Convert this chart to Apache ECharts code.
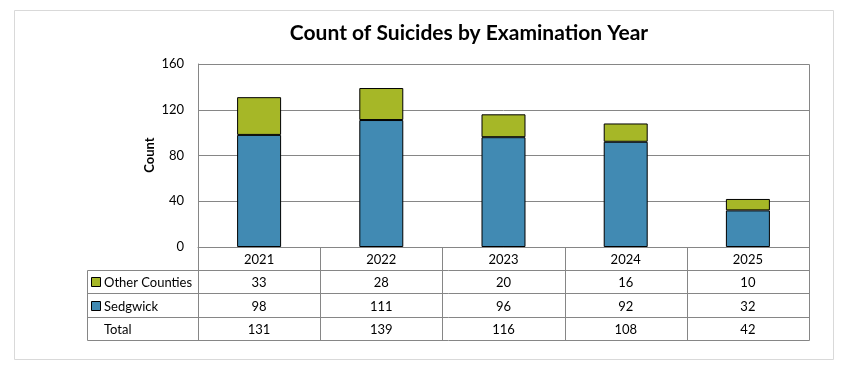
<!DOCTYPE html>
<html>
<head>
<meta charset="utf-8">
<script src="https://cdn.jsdelivr.net/npm/echarts@6/dist/echarts.min.js"></script>
<style>
html,body{margin:0;padding:0;background:#fff;}
#c{width:844px;height:373px;}
</style>
</head>
<body>
<div id="c"></div>
<script>
const years = ['2021', '2022', '2023', '2024', '2025'];
const otherCounties = [33, 28, 20, 16, 10];
const sedgwick = [98, 111, 96, 92, 32];
const totals = [131, 139, 116, 108, 42];
const yTicks = [0, 40, 80, 120, 160];

const FONT = 'Lato, "Open Sans", sans-serif';
const BLUE = '#418AB3';
const GREEN = '#A6B727';
const LINE = '#868686';

const W = 844, H = 373;
const gL = 198, gR = 809, gT = 64, gB = 247;
const tableL = 87;
const rowH = 23.2;
const colW = (gR - gL) / years.length;

const chart = echarts.init(document.getElementById('c'), null, {renderer: 'canvas'});

const graphics = [];
graphics.push({type: 'rect', shape: {x: 14.5, y: 10.5, width: 819, height: 349}, style: {fill: 'none', stroke: '#d9d9d9', lineWidth: 1}, silent: true});

function hline(x1, x2, y) {
  graphics.push({type: 'line', shape: {x1: x1, y1: y, x2: x2, y2: y}, style: {stroke: LINE, lineWidth: 1}, silent: true, z: 10});
}
function vline(x, y1, y2) {
  graphics.push({type: 'line', shape: {x1: x, y1: y1, x2: x, y2: y2}, style: {stroke: LINE, lineWidth: 1}, silent: true, z: 10});
}
function txt(x, y, s, align) {
  graphics.push({type: 'text', x: x, y: y, style: {text: s, fill: '#000', font: '13px ' + FONT, textAlign: align || 'center', textVerticalAlign: 'middle'}, silent: true, z: 10});
}

const r0 = gB, r1 = Math.round(gB + rowH) + 0.5, r2 = Math.round(gB + 2 * rowH) + 0.5, r3 = Math.round(gB + 3 * rowH) + 0.5, r4 = Math.round(gB + 4 * rowH) + 0.5;
hline(tableL + 0.5, gR + 0.5, r1);
hline(tableL + 0.5, gR + 0.5, r2);
hline(tableL + 0.5, gR + 0.5, r3);
hline(tableL + 0.5, gR + 0.5, r4);
vline(tableL + 0.5, r1, r4);
for (let i = 0; i <= years.length; i++) {
  const x = Math.round(gL + i * colW) + 0.5;
  vline(x, r0, r4);
}
const rowsY = [(r0 + r1) / 2, (r1 + r2) / 2, (r2 + r3) / 2, (r3 + r4) / 2];
years.forEach((y, i) => {
  const cx = gL + (i + 0.5) * colW;
  txt(cx, rowsY[0] + 1, y);
  txt(cx, rowsY[1] + 1, String(otherCounties[i]));
  txt(cx, rowsY[2] + 1, String(sedgwick[i]));
  txt(cx, rowsY[3] + 1, String(totals[i]));
});
const legendRows = [['Other Counties', GREEN], ['Sedgwick', BLUE]];
legendRows.forEach((lr, k) => {
  const cy = rowsY[k + 1];
  graphics.push({type: 'rect', shape: {x: 91.5, y: Math.round(cy) - 4.5, width: 9, height: 9}, style: {fill: lr[1], stroke: '#000', lineWidth: 1}, silent: true, z: 10});
  txt(104, cy + 1, lr[0], 'left');
});
txt(104, rowsY[3] + 1, 'Total', 'left');

graphics.push({type: 'line', shape: {x1: gL + 0.5, y1: gT + 0.5, x2: gR + 0.5, y2: gT + 0.5}, style: {stroke: LINE, lineWidth: 1}, silent: true});
graphics.push({type: 'line', shape: {x1: gR + 0.5, y1: gT + 0.5, x2: gR + 0.5, y2: gB}, style: {stroke: LINE, lineWidth: 1}, silent: true});
graphics.push({type: 'text', x: 469, y: 33, style: {text: 'Count of Suicides by Examination Year', fill: '#000', font: 'bold 21px ' + FONT, textAlign: 'center', textVerticalAlign: 'middle'}, silent: true});
graphics.push({type: 'text', x: 150, y: 155, rotation: Math.PI / 2, style: {text: 'Count', fill: '#000', font: 'bold 13px ' + FONT, textAlign: 'center', textVerticalAlign: 'middle'}, silent: true});

chart.setOption({
  animation: false,
  backgroundColor: '#fff',
  grid: {left: gL, right: W - gR, top: gT, bottom: H - gB, containLabel: false},
  xAxis: {
    type: 'category', data: years,
    axisLine: {show: true, lineStyle: {color: LINE}},
    axisTick: {show: false},
    axisLabel: {show: false},
    splitLine: {show: false}
  },
  yAxis: {
    type: 'value', min: yTicks[0], max: yTicks[yTicks.length - 1], interval: 40,
    axisLine: {show: true, lineStyle: {color: LINE}},
    axisTick: {show: false},
    axisLabel: {margin: 14, fontFamily: FONT, fontSize: 13, color: '#000'},
    splitLine: {show: true, lineStyle: {color: LINE, width: 1}}
  },
  graphic: graphics,
  series: [
    {name: 'Sedgwick', type: 'bar', stack: 'a', data: sedgwick, barWidth: '36%',
     itemStyle: {color: BLUE, borderColor: '#000', borderWidth: 1}},
    {name: 'Other Counties', type: 'bar', stack: 'a', data: otherCounties, barWidth: '36%',
     itemStyle: {color: GREEN, borderColor: '#000', borderWidth: 1}}
  ]
});
</script>
</body>
</html>
